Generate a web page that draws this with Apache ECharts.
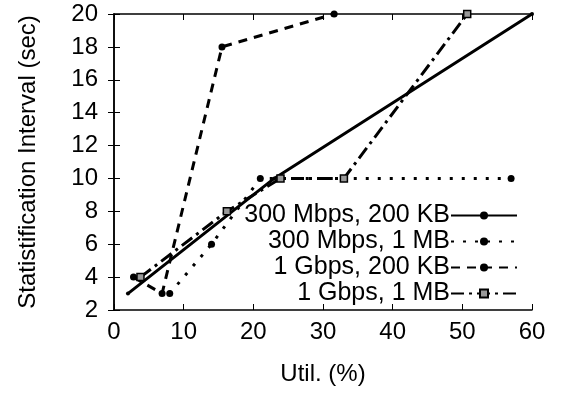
<!DOCTYPE html>
<html>
<head>
<meta charset="utf-8">
<script src="https://cdn.jsdelivr.net/npm/echarts@6/dist/echarts.min.js"></script>
<style>
  html, body { margin: 0; padding: 0; background: #fff; }
  #chart { width: 565px; height: 393px; }
</style>
</head>
<body>
<div id="chart"></div>
<script>
// values
const seriesNames = ['300 Mbps, 200 KB', '300 Mbps, 1 MB', '1 Gbps, 200 KB', '1 Gbps, 1 MB'];

const util300k200 = [2, 23, 60];
const intv300k200 = [3, 10, 20];

const util300m1 = [8, 14, 21, 57];
const intv300m1 = [3, 6, 10, 10];

const util1g200 = [2.8, 6.9, 15.5, 31.6];
const intv1g200 = [4, 3, 18, 20];

const util1g1 = [3.8, 16.2, 23.9, 33, 50.7];
const intv1g1 = [4, 8, 10, 10, 20];

const xTicks = [0, 10, 20, 30, 40, 50, 60];
const yTicks = [2, 4, 6, 8, 10, 12, 14, 16, 18, 20];

const font = 'Liberation Sans, Arial, sans-serif';

function pairs(xs, ys) {
  return xs.map((x, i) => [x, ys[i]]);
}

const tickStyle = { show: true, inside: true, length: 6, lineStyle: { color: '#000', width: 1 } };
const lineAx = { show: true, lineStyle: { color: '#000', width: 1.5 } };

const myChart = echarts.init(document.getElementById('chart'));
const option = {
  animation: false,
  backgroundColor: '#fff',
  grid: { left: 114, right: 33, top: 14, bottom: 83 },
  legend: {
    orient: 'vertical',
    right: 47,
    top: 203,
    padding: 0,
    align: 'right',
    itemWidth: 66,
    itemHeight: 10,
    itemGap: 1,
    textStyle: { fontFamily: font, fontSize: 25, color: '#000', padding: [0, -4, 0, 0] },
    data: seriesNames
  },
  xAxis: [
    {
      type: 'value', min: xTicks[0], max: xTicks[xTicks.length - 1], interval: 10,
      name: 'Util. (%)', nameLocation: 'middle', nameGap: 52,
      nameTextStyle: { fontFamily: font, fontSize: 24, color: '#000' },
      axisLine: lineAx, axisTick: tickStyle, splitLine: { show: false },
      axisLabel: { fontFamily: font, fontSize: 24, color: '#000', margin: 10 }
    },
    {
      type: 'value', min: xTicks[0], max: xTicks[xTicks.length - 1], interval: 10, position: 'top',
      axisLine: lineAx, axisTick: tickStyle, splitLine: { show: false },
      axisLabel: { show: false }
    }
  ],
  yAxis: [
    {
      type: 'value', min: yTicks[0], max: yTicks[yTicks.length - 1], interval: 2,
      name: 'Statistification Interval (sec)', nameLocation: 'middle', nameGap: 74,
      nameTextStyle: { fontFamily: font, fontSize: 24, color: '#000' },
      axisLine: lineAx, axisTick: tickStyle, splitLine: { show: false },
      axisLabel: { fontFamily: font, fontSize: 24, color: '#000', margin: 16 }
    },
    {
      type: 'value', min: yTicks[0], max: yTicks[yTicks.length - 1], interval: 2, position: 'right',
      axisLine: lineAx, axisTick: tickStyle, splitLine: { show: false },
      axisLabel: { show: false }
    }
  ],
  series: [
    {
      name: seriesNames[0], type: 'line', data: pairs(util300k200, intv300k200),
      symbol: 'circle', symbolSize: 4,
      itemStyle: { color: '#000' },
      lineStyle: { color: '#000', width: 3, type: 'solid' }
    },
    {
      name: seriesNames[1], type: 'line', data: pairs(util300m1, intv300m1),
      symbol: 'circle', symbolSize: 7,
      itemStyle: { color: '#000' },
      lineStyle: { color: '#000', width: 3, type: [3, 9] }
    },
    {
      name: seriesNames[2], type: 'line', data: pairs(util1g200, intv1g200),
      symbol: 'circle', symbolSize: 7,
      itemStyle: { color: '#000' },
      lineStyle: { color: '#000', width: 3, type: [9, 7] }
    },
    {
      name: seriesNames[3], type: 'line', data: pairs(util1g1, intv1g1),
      symbol: 'rect', symbolSize: 7,
      itemStyle: { color: '#999', borderColor: '#000', borderWidth: 1.5 },
      lineStyle: { color: '#000', width: 3, type: [13, 5, 3, 5] }
    }
  ]
};
myChart.setOption(option);
</script>
</body>
</html>
